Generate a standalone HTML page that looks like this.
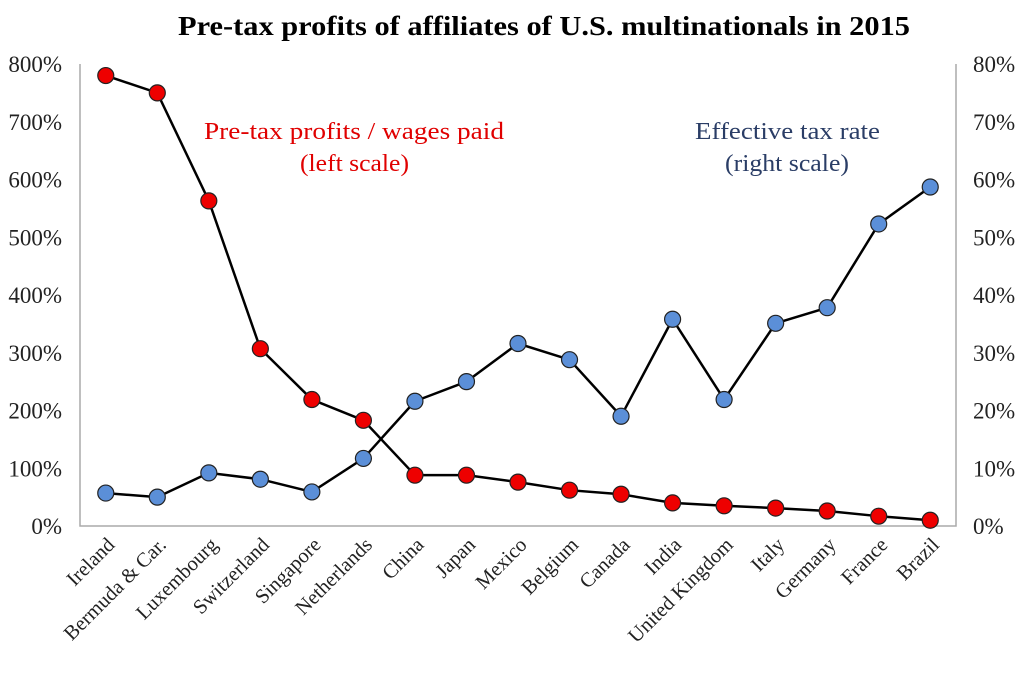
<!DOCTYPE html>
<html><head><meta charset="utf-8"><style>
body{margin:0;background:#fff;width:1024px;height:668px;overflow:hidden}
svg text{font-family:"Liberation Serif",serif;fill:#222}
</style></head><body>
<svg id="chart" width="1024" height="668" xmlns="http://www.w3.org/2000/svg">
<text x="178" y="35" font-size="27" font-weight="bold" textLength="732" lengthAdjust="spacingAndGlyphs" style="fill:#000">Pre-tax profits of  affiliates of U.S. multinationals in 2015</text>
<text x="204" y="139" font-size="24" textLength="300" lengthAdjust="spacingAndGlyphs" style="fill:#e00000">Pre-tax profits / wages paid</text>
<text x="300" y="171" font-size="24" textLength="109" lengthAdjust="spacingAndGlyphs" style="fill:#e00000">(left scale)</text>
<text x="695" y="139" font-size="24" textLength="185" lengthAdjust="spacingAndGlyphs" style="fill:#2a3d66">Effective tax rate</text>
<text x="725" y="171" font-size="24" textLength="124" lengthAdjust="spacingAndGlyphs" style="fill:#2a3d66">(right scale)</text>
<g id="g"></g>
</svg>
<script>
const categories=["Ireland","Bermuda & Car.","Luxembourg","Switzerland","Singapore","Netherlands","China","Japan","Mexico","Belgium","Canada","India","United Kingdom","Italy","Germany","France","Brazil"];
const profitRatio=[780,750,563,307,219,183,88,88,76,62,55,40,35,31,26,17,10];
const taxRate=[5.7,5.0,9.2,8.1,5.9,11.7,21.6,25.0,31.6,28.8,19.0,35.8,21.9,35.1,37.8,52.3,58.7];
const leftTicks=[0,100,200,300,400,500,600,700,800];
const rightTicks=[0,10,20,30,40,50,60,70,80];
const NS="http://www.w3.org/2000/svg";
const g=document.getElementById('g');
const L=80,R=956,T=64,B=526;
const band=(R-L)/categories.length;
const x=i=>L+band*(i+0.5);
const yL=v=>B-(v/800)*(B-T);
const yR=v=>B-(v/80)*(B-T);
function el(t,a){const e=document.createElementNS(NS,t);for(const k in a)e.setAttribute(k,a[k]);g.appendChild(e);return e;}
let e=el('path',{d:`M${L},${T}V${B}H${R}V${T}`,fill:'none',stroke:'#aaa','stroke-width':1.5});


leftTicks.forEach(v=>{const t=el('text',{x:62,y:yL(v)+8,'text-anchor':'end','font-size':23});t.textContent=v+'%';

});
rightTicks.forEach(v=>{const t=el('text',{x:973,y:yR(v)+8,'font-size':23});t.textContent=v+'%';

});
categories.forEach((c,i)=>{const t=el('text',{transform:`translate(${x(i)+10},${B+20}) rotate(-45)`,'text-anchor':'end','font-size':20.5});t.textContent=c;

});
function series(vals,yf,fill,name){
 const p=el('polyline',{points:vals.map((v,i)=>x(i)+','+yf(v)).join(' '),fill:'none',stroke:'#000','stroke-width':2.5});
 
 
 vals.forEach((v,i)=>{const c=el('circle',{cx:x(i),cy:yf(v),r:8,fill:fill,stroke:'#222','stroke-width':1.2});
 
 });
}
series(taxRate,yR,'#5b8fd8','tax-rate');
series(profitRatio,yL,'#ee0000','profit-ratio');
</script>
</body></html>
